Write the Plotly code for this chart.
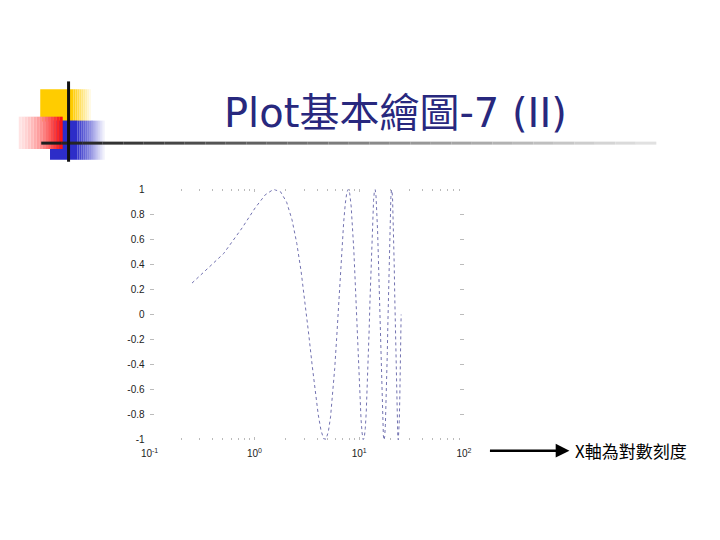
import plotly.graph_objects as go

# semilogx 取樣點
x_vals = [0.254, 0.508, 0.762, 1.015, 1.269, 1.523, 1.777, 2.031, 2.285, 2.539,
          2.793, 3.046, 3.300, 3.554, 3.808, 4.062, 4.316, 4.570, 4.823, 5.077,
          5.331, 5.585, 5.839, 6.093, 6.347, 6.601, 6.854, 7.108, 7.362, 7.616,
          7.870, 8.124, 8.378, 8.631, 8.885, 9.139, 9.393, 9.647, 9.901, 10.155,
          10.408, 10.662, 10.916, 11.170, 11.424, 11.678, 11.932, 12.186, 12.439, 12.693,
          12.947, 13.201, 13.455, 13.709, 13.963, 14.216, 14.470, 14.724, 14.978, 15.232,
          15.486, 15.740, 15.994, 16.247, 16.501, 16.755, 17.009, 17.263, 17.517, 17.771,
          18.024, 18.278, 18.532, 18.786, 19.040, 19.294, 19.548, 19.802, 20.055, 20.309,
          20.563, 20.817, 21.071, 21.325, 21.579, 21.832, 22.086, 22.340, 22.594, 22.848,
          23.102, 23.356, 23.610, 23.863, 24.117, 24.371, 24.625, 24.879, 25.133]
y_vals = [0.251, 0.486, 0.690, 0.850, 0.955, 0.999, 0.979, 0.896, 0.756, 0.567,
          0.342, 0.095, -0.158, -0.401, -0.618, -0.796, -0.922, -0.990, -0.994, -0.934,
          -0.815, -0.643, -0.430, -0.189, 0.063, 0.312, 0.541, 0.735, 0.882, 0.972,
          1.000, 0.964, 0.866, 0.713, 0.514, 0.282, 0.032, -0.220, -0.458, -0.667,
          -0.833, -0.945, -0.997, -0.985, -0.910, -0.776, -0.593, -0.372, -0.127, 0.127,
          0.372, 0.593, 0.776, 0.910, 0.985, 0.997, 0.945, 0.833, 0.667, 0.458,
          0.220, -0.032, -0.282, -0.514, -0.713, -0.866, -0.964, -1.000, -0.972, -0.882,
          -0.735, -0.541, -0.312, -0.063, 0.189, 0.430, 0.643, 0.815, 0.934, 0.994,
          0.990, 0.922, 0.796, 0.618, 0.401, 0.158, -0.095, -0.342, -0.567, -0.756,
          -0.896, -0.979, -0.999, -0.955, -0.850, -0.690, -0.486, -0.251, 0.000]

y_ticks = [1, 0.8, 0.6, 0.4, 0.2, 0, -0.2, -0.4, -0.6, -0.8, -1]
y_tick_labels = ["1", "0.8", "0.6", "0.4", "0.2", "0", "-0.2", "-0.4", "-0.6", "-0.8", "-1"]
x_ticks = [0.1, 1, 10, 100]
x_tick_labels = ["10<sup>-1</sup>", "10<sup>0</sup>", "10<sup>1</sup>", "10<sup>2</sup>"]

title_text = "Plot基本繪圖-7 (II)"
note_text = "X軸為對數刻度"

W, H = 720, 540


def px(x):
    return x / W


def py(y):
    return 1 - y / H


def mix(c1, c2, t):
    r = [round(a + (b - a) * t) for a, b in zip(c1, c2)]
    return "rgb(%d,%d,%d)" % tuple(r)


def rect(x0, y0, x1, y1, color):
    return dict(type="rect", xref="paper", yref="paper", x0=px(x0), x1=px(x1),
                y0=py(y1), y1=py(y0), fillcolor=color, line=dict(width=0), layer="above")


shapes = []
white = (255, 255, 255)

# 黃色方塊
yellow = (255, 204, 0)
shapes.append(rect(32, 86, 66, 119, mix(yellow, white, 0)))
for i in range(9):
    shapes.append(rect(66 + 2 * i, 86, 68 + 2 * i, 119, mix(yellow, white, (i + 1) / 10)))

# 藍色方塊
blue = (45, 45, 200)
shapes.append(rect(42, 118, 70, 158, mix(blue, white, 0)))
for i in range(14):
    shapes.append(rect(70 + 2 * i, 118, 72 + 2 * i, 158, mix(blue, white, (i + 1) / 15)))

# 紅色方塊
red = (250, 20, 20)
pink = (255, 228, 228)
for i in range(15):
    shapes.append(rect(10 + 3 * i, 114, 13 + 3 * i, 147, mix(pink, red, (i / 14) ** 1.3)))

# 標題下橫線
for i in range(30):
    shapes.append(dict(type="line", xref="paper", yref="paper",
                       x0=px(33 + 21 * i), x1=px(54 + 21 * i), y0=py(141), y1=py(141),
                       line=dict(color=mix((30, 30, 30), (225, 225, 225), i / 29), width=3)))
# 直線
shapes.append(dict(type="line", xref="paper", yref="paper", x0=px(61), x1=px(61),
                   y0=py(78), y1=py(160), line=dict(color="#111111", width=3)))

fig = go.Figure()
fig.add_trace(go.Scatter(x=x_vals, y=y_vals, mode="lines",
                         line=dict(color="#7272b0", width=1, dash="dot"),
                         showlegend=False, hoverinfo="skip"))

tick_font = dict(family="Liberation Sans, Arial", size=10, color="#222222")
fig.update_layout(
    width=W, height=H,
    margin=dict(l=0, r=0, t=0, b=0),
    paper_bgcolor="white", plot_bgcolor="white",
    shapes=shapes,
    xaxis=dict(type="log", range=[-1, 2], domain=[px(144), px(466)],
               tickmode="array", tickvals=x_ticks, ticktext=x_tick_labels,
               ticks="inside", ticklen=3, tickcolor="#bbbbbb", mirror="ticks",
               ticklabelstandoff=6,
               showline=False, showgrid=False, zeroline=False, tickfont=tick_font,
               minor=dict(dtick="D1", ticks="inside", ticklen=2, tickcolor="#bbbbbb", showgrid=False)),
    yaxis=dict(range=[-1, 1], domain=[py(444), py(188)],
               tickmode="array", tickvals=y_ticks, ticktext=y_tick_labels,
               ticks="inside", ticklen=4, tickcolor="#bbbbbb", mirror="ticks",
               ticklabelstandoff=4,
               showline=False, showgrid=False, zeroline=False, tickfont=tick_font),
    annotations=[
        dict(text=title_text, xref="paper", yref="paper", x=px(396), y=py(110),
             xanchor="center", yanchor="middle", showarrow=False,
             font=dict(family="DejaVu Sans, Noto Sans CJK TC", size=40, color="#28287e")),
        dict(text="", xref="paper", yref="paper", x=px(574), y=py(455),
             axref="pixel", ayref="pixel", ax=-81, ay=0, showarrow=True,
             arrowhead=2, arrowsize=1.1, arrowwidth=2.5, arrowcolor="#000000"),
        dict(text=note_text, xref="paper", yref="paper", x=px(578), y=py(455),
             xanchor="left", yanchor="middle", showarrow=False,
             font=dict(family="Noto Sans CJK TC", size=17, color="#000000")),
    ],
)

fig.write_html("out.html", config={"displayModeBar": False},
               post_script="document.body.style.margin='0';")
